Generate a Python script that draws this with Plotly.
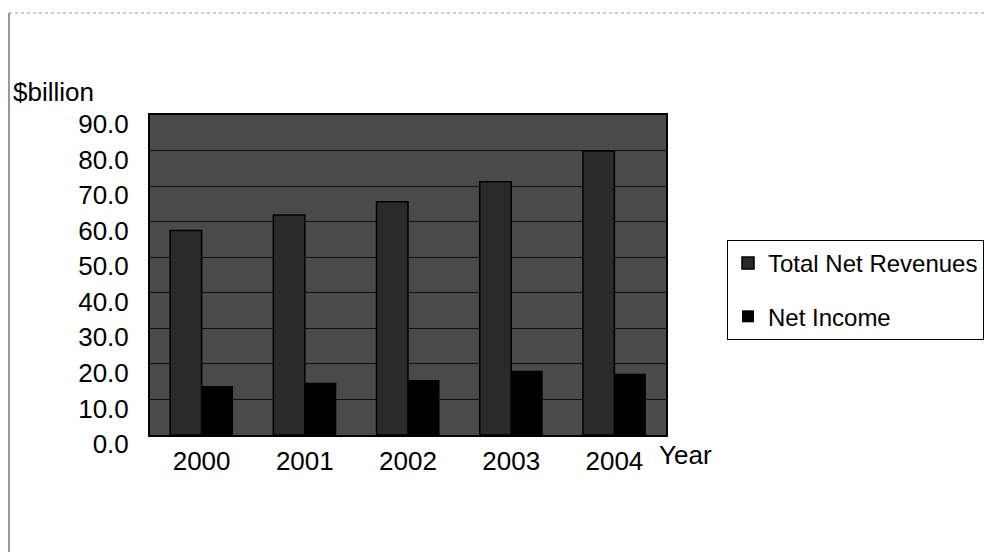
import plotly.graph_objects as go

# Annual figures in $ billion
years = ["2000", "2001", "2002", "2003", "2004"]
total_net_revenues = [57.5, 61.9, 65.6, 71.2, 79.9]
net_income = [13.8, 14.7, 15.5, 18.1, 17.2]
y_ticks = [0, 10, 20, 30, 40, 50, 60, 70, 80, 90]
y_tick_labels = [f"{v:.1f}" for v in y_ticks]

W, H = 984, 552
L, R, T, B = 150, 318, 115, 117  # plot area margins
pw, ph = W - L - R, H - T - B


def px_x(x):
    return (x - L) / pw


def px_y(y):
    return (H - B - y) / ph


FONT = "Liberation Sans, Arial, sans-serif"

fig = go.Figure()
fig.add_trace(go.Bar(
    x=years, y=total_net_revenues, name="Total Net Revenues",
    marker=dict(color="#2a2a2a", line=dict(color="#000000", width=1.5)),
    legendgroup="rev",
))
fig.add_trace(go.Bar(
    x=years, y=net_income, name="Net Income",
    marker=dict(color="#000000", line=dict(color="#000000", width=0)),
    legendgroup="ni",
))

fig.update_layout(
    width=W, height=H,
    margin=dict(l=L, r=R, t=T, b=B, autoexpand=False),
    paper_bgcolor="white",
    plot_bgcolor="#4a4a4a",
    barmode="group",
    bargap=0.39,
    bargroupgap=0,
    font=dict(family=FONT, color="black"),
    showlegend=True,
    legend=dict(
        x=px_x(727), y=px_y(240), xanchor="left", yanchor="top",
        bgcolor="white", bordercolor="black", borderwidth=1,
        font=dict(family=FONT, size=24, color="black"),
        tracegroupgap=19, traceorder="grouped",
    ),
    xaxis=dict(
        type="category", showgrid=False, ticks="",
        tickfont=dict(family=FONT, size=26, color="black"),
        ticklabelstandoff=2,
        showline=True, linecolor="black", linewidth=2, mirror=True,
    ),
    yaxis=dict(
        range=[0, 90], tickvals=y_ticks, ticktext=y_tick_labels,
        showgrid=True, gridcolor="#0e0e0e", gridwidth=1, zeroline=False,
        ticks="", tickfont=dict(family=FONT, size=26, color="black"),
        ticklabelstandoff=14, ticklabelshift=9,
        showline=True, linecolor="black", linewidth=2, mirror=True,
    ),
    annotations=[
        dict(text="$billion", xref="paper", yref="paper",
             x=px_x(11), y=px_y(92), xanchor="left", yanchor="middle",
             showarrow=False, font=dict(family=FONT, size=26, color="black")),
        dict(text="Year", xref="paper", yref="paper",
             x=px_x(685), y=px_y(455), xanchor="center", yanchor="middle",
             showarrow=False, font=dict(family=FONT, size=26, color="black")),
    ],
    shapes=[
        # outer chart frame: left edge and faint top edge
        dict(type="line", xref="paper", yref="paper",
             x0=px_x(9), x1=px_x(9), y0=px_y(13), y1=px_y(552),
             line=dict(color="#333333", width=1)),
        dict(type="line", xref="paper", yref="paper",
             x0=px_x(9), x1=px_x(984), y0=px_y(13), y1=px_y(13),
             line=dict(color="#9a9a9a", width=1, dash="dot")),
    ],
)

fig.write_html("out.html")
